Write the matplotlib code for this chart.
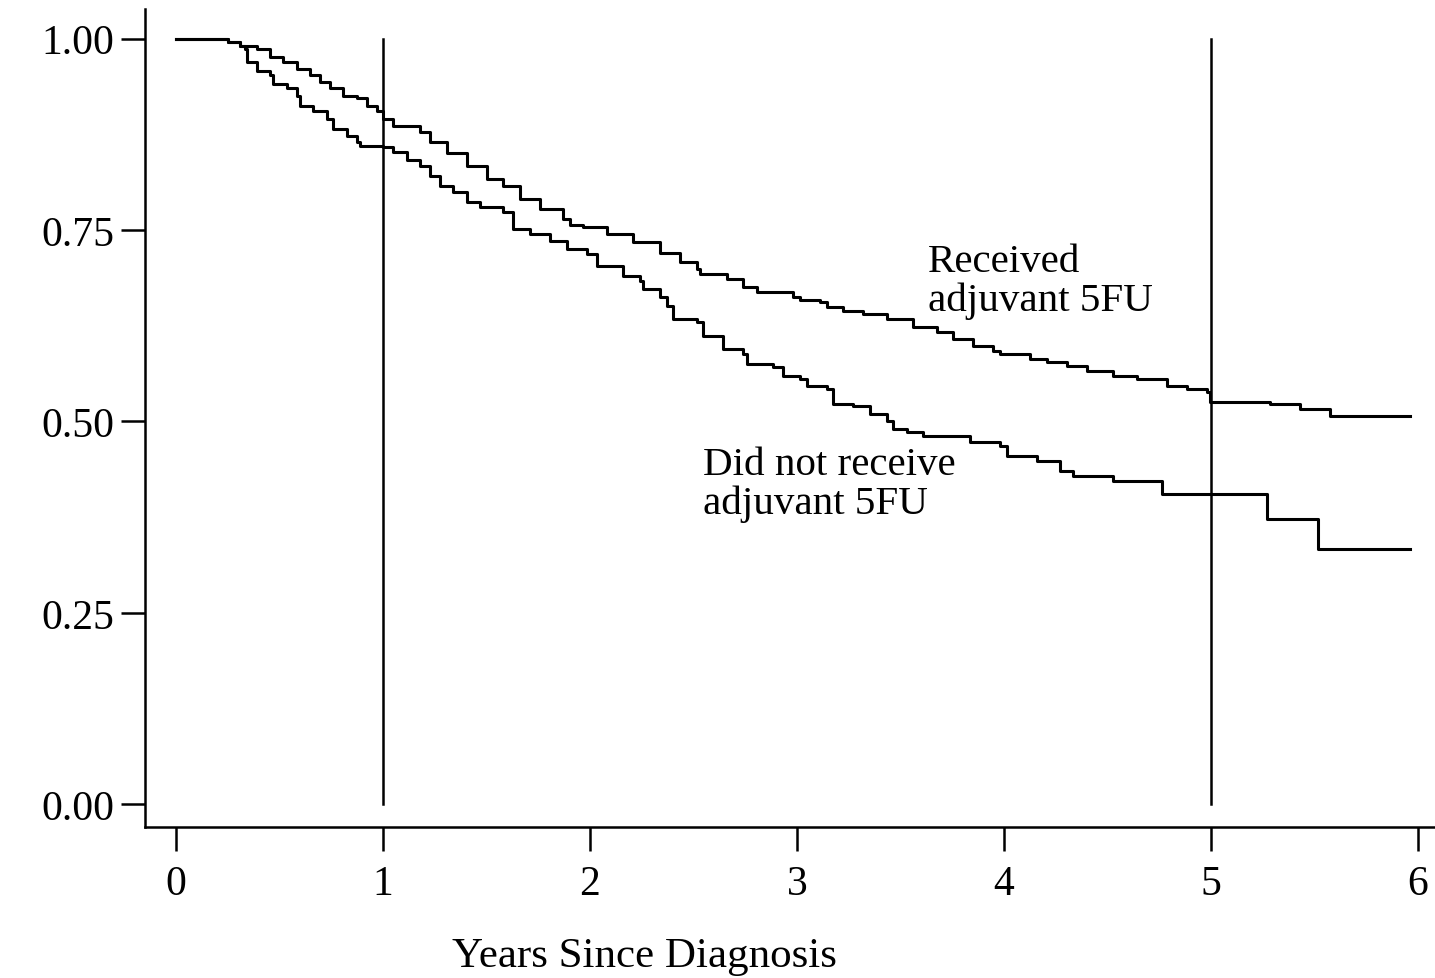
import matplotlib.pyplot as plt

plt.rcParams["font.family"] = "Liberation Serif"

# ======================
# Data
# ======================

years_5fu = [0.000, 0.251, 0.309, 0.391, 0.454, 0.517, 0.585, 0.647, 0.696, 0.744,
             0.807, 0.874, 0.923, 0.971, 1.000, 1.048, 1.179, 1.227, 1.309, 1.406,
             1.502, 1.580, 1.662, 1.758, 1.870, 1.903, 1.966, 2.082, 2.208, 2.338,
             2.435, 2.517, 2.531, 2.662, 2.739, 2.807, 2.981, 3.014, 3.111, 3.145,
             3.222, 3.319, 3.435, 3.560, 3.676, 3.754, 3.850, 3.947, 3.981, 4.126,
             4.208, 4.304, 4.401, 4.527, 4.643, 4.787, 4.884, 4.981, 4.995, 5.285,
             5.430, 5.575, 5.961]
surv_5fu = [1.000, 0.995, 0.990, 0.987, 0.976, 0.970, 0.961, 0.952, 0.944, 0.935,
            0.925, 0.922, 0.912, 0.905, 0.895, 0.886, 0.878, 0.865, 0.850, 0.834,
            0.817, 0.808, 0.791, 0.778, 0.765, 0.756, 0.754, 0.745, 0.735, 0.720,
            0.708, 0.699, 0.693, 0.686, 0.676, 0.669, 0.663, 0.658, 0.656, 0.650,
            0.644, 0.641, 0.634, 0.624, 0.617, 0.608, 0.599, 0.592, 0.588, 0.582,
            0.578, 0.573, 0.566, 0.559, 0.556, 0.546, 0.542, 0.539, 0.525, 0.523,
            0.516, 0.507, 0.507]

years_no5fu = [0.000, 0.251, 0.309, 0.333, 0.343, 0.391, 0.454, 0.469, 0.536, 0.585,
               0.599, 0.662, 0.729, 0.758, 0.826, 0.874, 0.889, 1.000, 1.048, 1.116,
               1.179, 1.227, 1.275, 1.338, 1.406, 1.469, 1.580, 1.628, 1.710, 1.807,
               1.889, 1.986, 2.034, 2.159, 2.242, 2.256, 2.338, 2.372, 2.401, 2.517,
               2.546, 2.643, 2.739, 2.758, 2.884, 2.932, 3.014, 3.048, 3.145, 3.174,
               3.271, 3.353, 3.435, 3.464, 3.531, 3.609, 3.836, 3.981, 4.014, 4.159,
               4.271, 4.333, 4.527, 4.763, 5.271, 5.517, 5.961]
surv_no5fu = [1.000, 0.995, 0.990, 0.987, 0.970, 0.958, 0.952, 0.941, 0.935, 0.925,
              0.912, 0.905, 0.895, 0.882, 0.873, 0.865, 0.860, 0.859, 0.852, 0.841,
              0.834, 0.821, 0.808, 0.800, 0.787, 0.780, 0.773, 0.752, 0.745, 0.736,
              0.725, 0.719, 0.703, 0.690, 0.684, 0.673, 0.663, 0.651, 0.634, 0.630,
              0.612, 0.595, 0.588, 0.575, 0.571, 0.559, 0.556, 0.546, 0.542, 0.523,
              0.520, 0.510, 0.501, 0.490, 0.486, 0.481, 0.473, 0.468, 0.455, 0.448,
              0.435, 0.429, 0.422, 0.405, 0.373, 0.333, 0.333]

x_ticks = [0, 1, 2, 3, 4, 5, 6]
y_ticks = [0.00, 0.25, 0.50, 0.75, 1.00]
y_tick_labels = ["0.00", "0.25", "0.50", "0.75", "1.00"]
marker_years = [1, 5]

# ======================
# Plot
# ======================

fig = plt.figure(figsize=(14.35, 9.79), dpi=100)
ax = fig.add_axes([0.101, 0.154, 0.899, 0.836])

ax.step(years_5fu, surv_5fu, where="post", color="black", linewidth=2.2)
ax.step(years_no5fu, surv_no5fu, where="post", color="black", linewidth=2.2)

for yr in marker_years:
    ax.plot([yr, yr], [0, 1], color="black", linewidth=1.8)

ax.text(3.633, 0.733, "Received\nadjuvant 5FU", fontsize=29.5,
        ha="left", va="top", linespacing=1.05)
ax.text(2.546, 0.468, "Did not receive\nadjuvant 5FU", fontsize=29.5,
        ha="left", va="top", linespacing=1.05)

ax.set_xlim(-0.15, 6.082)
ax.set_ylim(-0.030, 1.039)

ax.set_xticks(x_ticks)
ax.set_yticks(y_ticks)
ax.set_yticklabels(y_tick_labels)

ax.spines["top"].set_visible(False)
ax.spines["right"].set_visible(False)
ax.spines["left"].set_linewidth(1.8)
ax.spines["bottom"].set_linewidth(1.8)

ax.tick_params(axis="both", direction="out", length=17, width=1.8,
               labelsize=30)
ax.tick_params(axis="x", pad=10)
ax.tick_params(axis="y", pad=5)

fig.text(0.449, 0.012, "Years Since Diagnosis", fontsize=31,
         ha="center", va="baseline")

plt.savefig("out.png", dpi=100)
